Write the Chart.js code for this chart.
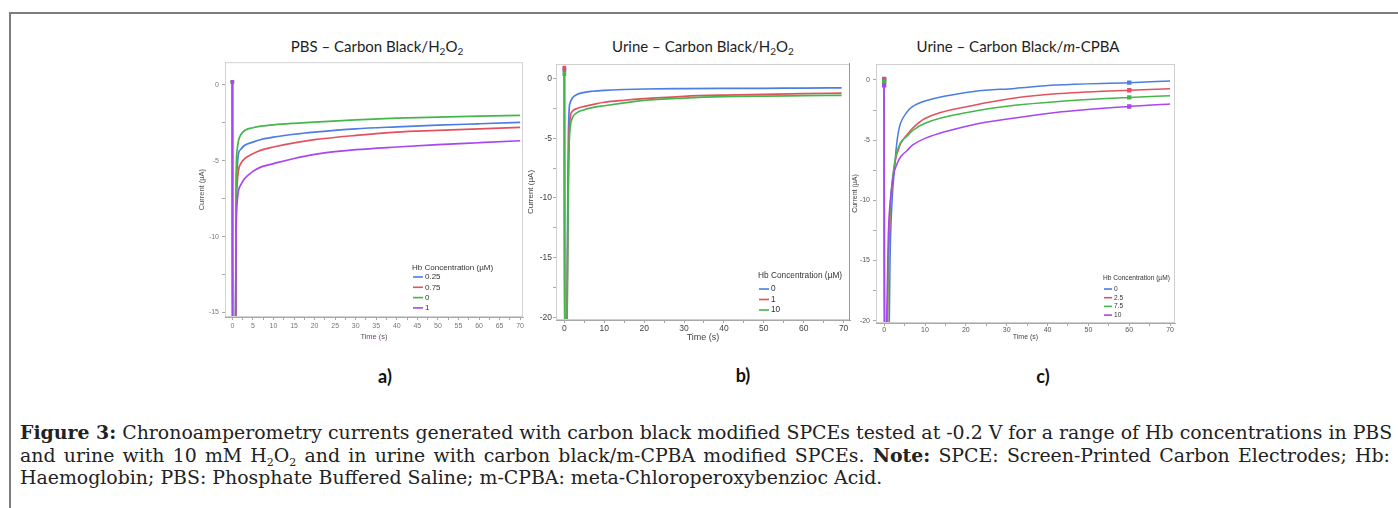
<!DOCTYPE html>
<html>
<head>
<meta charset="utf-8">
<script src="https://cdn.jsdelivr.net/npm/chart.js@4.4.1/dist/chart.umd.min.js"></script>
<style>
    body { margin: 0; width: 1398px; height: 508px; background: #fff; position: relative; overflow: hidden; }
    .outer { position: absolute; left: 9px; top: 12px; width: 1400px; height: 520px; border-top: 2px solid #7d7d7d; border-left: 2px solid #7d7d7d; }
    canvas { position: absolute; }
    .title { position: absolute; font-family: Lato, sans-serif; font-size: 15px; color: #1e1e1e; transform: translate(-50%, -50%); white-space: nowrap; }
    .title sub { font-size: 10px; line-height: 0; vertical-align: -3px; }
    .tag { position: absolute; font-family: Lato, sans-serif; font-weight: bold; font-size: 18px; color: #111; transform: translate(-50%, -50%); }
    .divider { position: absolute; left: 849px; top: 63px; width: 1px; height: 258px; background: #9a9a9a; }
    .caption { position: absolute; left: 20px; top: 421px; width: 1370px; font-family: 'DejaVu Serif', serif; font-size: 18.9px; line-height: 22.5px; color: #222; white-space: nowrap; }
    .caption .j { text-align: justify; text-align-last: justify; }
    .caption sub { font-size: 11px; line-height: 0; vertical-align: -4px; }
    .caption b { font-weight: bold; }
</style>
</head>
<body>
<div class="outer"></div>

<div class="title" style="left:377px; top:46px;">PBS – Carbon Black/H<sub>2</sub>O<sub>2</sub></div>
<div class="title" style="left:703px; top:46px;">Urine – Carbon Black/H<sub>2</sub>O<sub>2</sub></div>
<div class="title" style="left:1018px; top:46px;">Urine – Carbon Black/<i>m</i>-CPBA</div>

<canvas id="chartA" width="340" height="290" style="left:190px; top:55px;"></canvas>
<canvas id="chartB" width="340" height="290" style="left:520px; top:55px;"></canvas>
<canvas id="chartC" width="340" height="290" style="left:845px; top:55px;"></canvas>
<div class="divider"></div>

<div class="tag" style="left:385px; top:376px;">a)</div>
<div class="tag" style="left:743px; top:375px;">b)</div>
<div class="tag" style="left:1043px; top:376px;">c)</div>

<div class="caption">
    <div class="j"><b>Figure 3:</b> Chronoamperometry currents generated with carbon black modified SPCEs tested at -0.2 V for a range of Hb concentrations in PBS</div>
    <div class="j">and urine with 10 mM H<sub>2</sub>O<sub>2</sub> and in urine with carbon black/m-CPBA modified SPCEs. <b>Note:</b> SPCE: Screen-Printed Carbon Electrodes; Hb:</div>
    <div>Haemoglobin; PBS: Phosphate Buffered Saline; m-CPBA: meta-Chloroperoxybenzioc Acid.</div>
</div>

<script>
// ---- a) PBS - Carbon Black/H2O2 ----
const aTime = [0, 0.05, 0.7, 0.9, 1.2, 1.5, 2, 3, 5, 7, 10, 15, 20, 30, 40, 50, 60, 70];
const aLabels = ['0.25', '0.75', '0', '1'];
const aCur025 = [0.2, -20, -20, -8, -5.3, -4.5, -4.25, -3.98, -3.77, -3.6, -3.44, -3.25, -3.11, -2.89, -2.76, -2.65, -2.56, -2.47];
const aCur075 = [0.2, -20, -20, -9, -6.4, -5.6, -5.2, -4.86, -4.53, -4.3, -4.09, -3.82, -3.61, -3.33, -3.11, -3.0, -2.89, -2.8];
const aCur0 = [0.2, -20, -20, -6, -4.2, -3.65, -3.3, -3.0, -2.82, -2.72, -2.63, -2.53, -2.45, -2.3, -2.19, -2.12, -2.06, -2.01];
const aCur1 = [0.2, -20, -20, -10, -7.6, -6.94, -6.6, -6.17, -5.7, -5.4, -5.19, -4.85, -4.58, -4.27, -4.09, -3.94, -3.81, -3.68];
const aXTicks = [0, 5, 10, 15, 20, 25, 30, 35, 40, 45, 50, 55, 60, 65, 70];
const aYTicks = [-15, -10, -5, 0];

// ---- b) Urine - Carbon Black/H2O2 ----
const bTime = [0, 0.1, 0.5, 0.8, 1, 1.2, 1.5, 2, 3, 5, 7, 10, 15, 20, 30, 40, 50, 60, 69.5];
const bLabels = ['0', '1', '10'];
const bCur0 = [0.7, -25, -25, -12, -5, -2.6, -2.0, -1.65, -1.37, -1.17, -1.08, -1.0, -0.93, -0.89, -0.86, -0.84, -0.83, -0.81, -0.8];
const bCur1 = [0.9, -25, -25, -15, -8, -4.5, -3.2, -2.76, -2.54, -2.34, -2.2, -2.0, -1.83, -1.7, -1.5, -1.4, -1.34, -1.28, -1.23];
const bCur10 = [0.35, -25, -25, -16, -9, -5.5, -4.0, -3.3, -2.9, -2.62, -2.45, -2.29, -2.05, -1.84, -1.65, -1.53, -1.48, -1.45, -1.42];
const bXTicks = [0, 10, 20, 30, 40, 50, 60, 70];
const bYTicks = [-20, -15, -10, -5, 0];

// ---- c) Urine - Carbon Black/m-CPBA ----
const cTime = [0, 0.1, 0.6, 1, 1.5, 2, 2.5, 3, 3.5, 4, 5.5, 7, 10, 22, 32, 42, 60, 70];
const cLabels = ['0', '2.5', '7.5', '10'];
const cCur0 = [0.1, -25, -25, -25, -14, -9.7, -7.5, -5.5, -4.3, -3.6, -2.7, -2.2, -1.75, -0.95, -0.7, -0.42, -0.22, -0.08];
const cCur25 = [0.0, -25, -25, -16, -11, -8.6, -7.2, -6.3, -5.8, -5.3, -4.6, -4.0, -3.2, -2.1, -1.5, -1.15, -0.85, -0.72];
const cCur75 = [-0.15, -25, -25, -15, -10.5, -8.3, -7.0, -6.1, -5.6, -5.2, -4.7, -4.2, -3.6, -2.6, -2.1, -1.8, -1.45, -1.3];
const cCur10 = [-0.45, -25, -20, -13, -10, -8.5, -7.6, -7.1, -6.7, -6.4, -5.9, -5.4, -4.85, -3.7, -3.15, -2.7, -2.2, -2.0];
const cXTicks = [0, 10, 20, 30, 40, 50, 60, 70];
const cYTicks = [-20, -15, -10, -5, 0];

const BLUE = '#4b7ee2';
const RED = '#e2525e';
const GREEN = '#44b64c';
const PURPLE = '#a846f0';

// minor ticks sit half way between the labelled ones
function withMinor(major) {
    const all = [];
    for (let i = 0; i < major.length; i++) {
        all.push(major[i]);
        if (i < major.length - 1) all.push((major[i] + major[i + 1]) / 2);
    }
    return all;
}

function points(time, values) {
    return time.map((t, i) => ({ x: t, y: values[i] }));
}

// light box round the plot area
const framePlugin = {
    id: 'frame',
    afterDraw(chart, args, opts) {
        const { left, top, right, bottom } = chart.chartArea;
        const ctx = chart.ctx;
        ctx.save();
        ctx.strokeStyle = opts.color;
        ctx.lineWidth = 1;
        ctx.strokeRect(left + 0.5, top + 0.5, right - left - 1, bottom - top - 1);
        ctx.restore();
    }
};

// legend drawn inside the plot, like the instrument software does
const innerLegend = {
    id: 'innerLegend',
    afterDraw(chart, args, opts) {
        const ctx = chart.ctx;
        ctx.save();
        ctx.font = opts.size + 'px "Liberation Sans"';
        ctx.fillStyle = '#333';
        ctx.textBaseline = 'middle';
        ctx.fillText(opts.title, opts.x, opts.y);
        chart.data.datasets.forEach((ds, i) => {
            const y = opts.first + opts.gap * i;
            ctx.strokeStyle = ds.borderColor;
            ctx.lineWidth = 1.6;
            ctx.beginPath();
            ctx.moveTo(opts.x + 1, y);
            ctx.lineTo(opts.x + opts.len, y);
            ctx.stroke();
            ctx.fillStyle = '#333';
            ctx.fillText(ds.label, opts.x + opts.len + 2, y);
        });
        ctx.restore();
    }
};

function axis(range, major, style) {
    const minor = withMinor(major);
    return {
        type: 'linear',
        min: range[0],
        max: range[1],
        afterBuildTicks: scale => { scale.ticks = minor.map(v => ({ value: v })); },
        afterFit: scale => {
            if (style.width) scale.width = style.width;
            if (style.height) scale.height = style.height;
        },
        ticks: {
            autoSkip: false,
            maxRotation: 0,
            padding: style.pad,
            color: style.tickColor,
            font: { size: style.tickSize },
            callback: value => major.includes(value) ? String(value) : ''
        },
        grid: { drawOnChartArea: false, tickLength: 3, color: '#a8a8a8' },
        border: { color: '#a8a8a8' },
        title: {
            display: true,
            text: style.title,
            color: style.titleColor,
            font: { size: style.titleSize },
            padding: style.titlePad
        }
    };
}

function makeChart(id, time, series, labels, colors, opts) {
    const datasets = series.map((values, i) => ({
        label: labels[i],
        data: points(time, values),
        borderColor: colors[i],
        backgroundColor: colors[i],
        borderWidth: opts.lineWidth,
        cubicInterpolationMode: 'monotone',
        pointStyle: 'rect',
        pointRadius: opts.marker,
        pointHoverRadius: 0,
        // later series are painted over the earlier ones
        order: series.length - i
    }));

    return new Chart(document.getElementById(id), {
        type: 'line',
        data: { datasets: datasets },
        options: {
            responsive: false,
            animation: false,
            layout: { padding: opts.padding },
            plugins: {
                legend: { display: false },
                tooltip: { enabled: false },
                frame: { color: opts.frameColor },
                innerLegend: opts.legend
            },
            scales: {
                x: axis(opts.xRange, opts.xTicks, opts.xStyle),
                y: axis(opts.yRange, opts.yTicks, opts.yStyle)
            }
        },
        plugins: [framePlugin, innerLegend]
    });
}

Chart.defaults.font.family = '"Liberation Sans", Arial, sans-serif';

makeChart('chartA', aTime, [aCur025, aCur075, aCur0, aCur1], aLabels, [BLUE, RED, GREEN, PURPLE], {
    lineWidth: 1.7,
    marker: ctx => ctx.dataIndex === 0 ? 1.2 : 0,
    padding: { top: 7, right: 7, left: 0, bottom: 0 },
    frameColor: '#d2d2d2',
    xRange: [-1.8, 70.7], xTicks: aXTicks,
    yRange: [-15.3, 1.5], yTicks: aYTicks,
    xStyle: { height: 28, pad: 2, tickColor: '#777', tickSize: 7, title: 'Time (s)', titleColor: '#6a4a6a', titleSize: 7.5, titlePad: { top: 0, bottom: 3.5 } },
    yStyle: { width: 35, pad: 3, tickColor: '#777', tickSize: 7, title: 'Current (µA)', titleColor: '#555', titleSize: 7.5, titlePad: { top: 7.5, bottom: 0 } },
    legend: { title: 'Hb Concentration (µM)', x: 222, y: 213, first: 222, gap: 10.3, len: 11, size: 8 }
});

makeChart('chartB', bTime, [bCur0, bCur1, bCur10], bLabels, [BLUE, RED, GREEN], {
    lineWidth: 1.7,
    marker: ctx => ctx.dataIndex === 0 ? 1.5 : 0,
    padding: { top: 9, right: 10, left: 0, bottom: 0 },
    frameColor: '#cfcfcf',
    xRange: [-2.1, 71.6], xTicks: bXTicks,
    yRange: [-20.2, 1.2], yTicks: bYTicks,
    xStyle: { height: 25, pad: 1, tickColor: '#444', tickSize: 8.5, title: 'Time (s)', titleColor: '#444', titleSize: 9, titlePad: { top: 0, bottom: 1.6 } },
    yStyle: { width: 36, pad: 1, tickColor: '#444', tickSize: 8.5, title: 'Current (µA)', titleColor: '#444', titleSize: 8, titlePad: { top: 6, bottom: 0 } },
    legend: { title: 'Hb Concentration (µM)', x: 238, y: 221, first: 234, gap: 10.5, len: 11, size: 8.3 }
});

makeChart('chartC', cTime, [cCur0, cCur25, cCur75, cCur10], cLabels, [BLUE, RED, GREEN, PURPLE], {
    lineWidth: 1.5,
    marker: ctx => (ctx.dataIndex === 0 || cTime[ctx.dataIndex] === 60) ? 2 : 0,
    padding: { top: 9, right: 10, left: 0, bottom: 0 },
    frameColor: '#cfcfcf',
    xRange: [-2.0, 71.2], xTicks: cXTicks,
    yRange: [-20.2, 1.33], yTicks: cYTicks,
    xStyle: { height: 22, pad: 0, tickColor: '#555', tickSize: 7, title: 'Time (s)', titleColor: '#444', titleSize: 7, titlePad: { top: 0, bottom: 3.8 } },
    yStyle: { width: 31, pad: 3, tickColor: '#555', tickSize: 7, title: 'Current (µA)', titleColor: '#444', titleSize: 7, titlePad: { top: 5.8, bottom: 0 } },
    legend: { title: 'Hb Concentration (µM)', x: 258, y: 223, first: 234, gap: 8.7, len: 9, size: 6.6 }
});
</script>
</body>
</html>
